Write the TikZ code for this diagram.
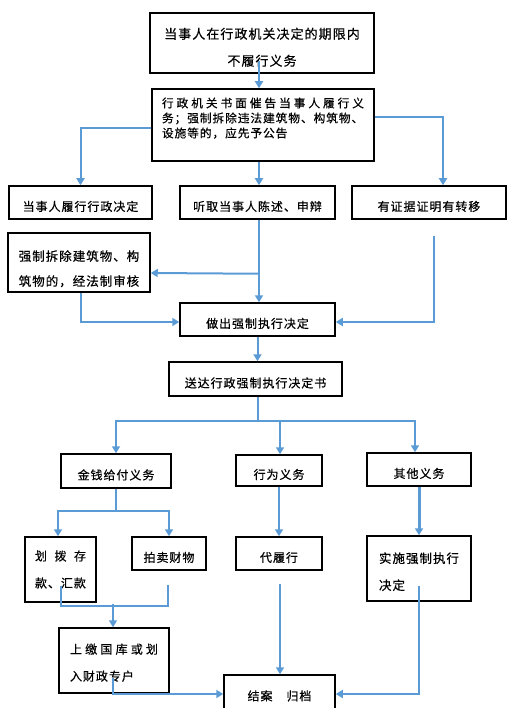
\documentclass[tikz,border=0pt]{standalone}
\usepackage{fontspec}
\newfontfamily\cjk[LetterSpace=8,FakeBold=0.5]{Noto Sans CJK SC}
\usetikzlibrary{arrows.meta,calc}
\definecolor{lblue}{RGB}{91,155,213}
\def\sprd#1#2{\hbox to #1{\sprdA#2\relax}}
\def\sprdA#1{#1\futurelet\sprdNext\sprdB}
\def\sprdB{\ifx\sprdNext\relax\expandafter\sprdEnd\else\hfill\expandafter\sprdA\fi}
\def\sprdEnd\relax{}
\tikzset{
  box/.style={draw, line width=1.5pt, inner sep=0pt, font=\cjk\fontsize{12}{27}\selectfont},
  one/.style={box, text height=19pt, text depth=2pt},
  two/.style={box, align=left},
  conn/.style={draw=lblue, line width=2pt},
  arr/.style={conn, -{Triangle[width=8pt,length=7pt]}},
}
\begin{document}
\begin{tikzpicture}[x=1pt,y=-1pt]
\useasboundingbox (0,0) rectangle (507,708);
% nodes
\node[box, minimum width=224pt, minimum height=60pt, align=center, font=\cjk\fontsize{13}{27}\selectfont] (b1) at (262,43) {\rule{0pt}{19.5pt}当事人在行政机关决定的期限内\\不履行义务};
\node[two, minimum width=222pt, minimum height=72pt, font=\cjk\fontsize{11.7}{15}\selectfont] (b2) at (263,125) {\sprd{202pt}{行政机关书面催告当事人履行义}\\务；强制拆除违法建筑物、构筑物、\\设施等的，应先予公告\\\mbox{}};
\node[one, minimum width=143pt, minimum height=33pt] (b3) at (80.5,202.5) {当事人履行行政决定};
\node[one, minimum width=155pt, minimum height=33pt] (b4) at (257.5,202.5) {听取当事人陈述、申辩};
\node[one, minimum width=154pt, minimum height=33pt] (b5) at (429,202.5) {有证据证明有转移};
\node[two, minimum width=142pt, minimum height=59pt, font=\cjk\fontsize{12.5}{25}\selectfont] (b6) at (79,262.5) {\rule{0pt}{23pt}强制拆除建筑物、构\\筑物的，经法制审核};
\node[one, minimum width=155pt, minimum height=33pt] (b7) at (257.5,319.5) {做出强制执行决定};
\node[one, minimum width=173pt, minimum height=34pt] (b8) at (255.5,379) {送达行政强制执行决定书};
\node[one, minimum width=110pt, minimum height=34pt] (b9) at (116,471) {金钱给付义务};
\node[one, minimum width=86pt, minimum height=31pt] (b10) at (279,470.5) {行为义务};
\node[one, minimum width=104pt, minimum height=33pt] (b11) at (419,469.5) {其他义务};
\node[two, minimum width=71pt, minimum height=65pt] (b12) at (60.5,569.5) {\sprd{51pt}{划拨存}\\款、汇款};
\node[one, minimum width=74pt, minimum height=33pt] (b13) at (169,553.5) {拍卖财物};
\node[one, minimum width=86pt, minimum height=33pt] (b14) at (279,553.5) {代履行};
\node[two, minimum width=104pt, minimum height=65pt, font=\cjk\fontsize{12.5}{27}\selectfont] (b15) at (419,568.5) {\rule{0pt}{17pt}实施强制执行\\决定};
\node[two, minimum width=110pt, minimum height=65pt] (b16) at (114,660.5) {\rule{0pt}{14.5pt}\sprd{88pt}{上缴国库或划}\\入财政专户};
\node[one, minimum width=111pt, minimum height=34pt] (b17) at (279.5,692) {结案　归档};
% connectors
\draw[arr] ($(b1.south)+(-3,-13)$) -- ($(b2.north)+(-4,0)$);
\draw[arr] ($(b2.west)+(0,3)$) -| (b3.north);
\draw[arr] ($(b2.south)+(-4,0)$) -- ($(b4.north)+(1.5,0)$);
\draw[arr] ($(b2.east)+(0,-8)$) -| ($(b5.north)+(14,0)$);
\draw[arr] ($(b4.south)+(1.5,0)$) -- ($(b7.north)+(1.5,0)$);
\draw[arr] ($(b4.south)+(1.5,54)$) -- ($(b6.east)+(0,10.5)$);
\draw[arr] ($(b6.south)+(2,0)$) |- ($(b7.west)+(0,2.5)$);
\draw[arr] ($(b5.south)+(5,16)$) |- ($(b7.east)+(0,2.5)$);
\draw[arr] (b7.south) -- (b7.south |- b8.north);
\coordinate (j8) at ($(b8.south)+(2.5,24)$);
\draw[conn] ($(b8.south)+(2.5,0)$) -- (j8);
\draw[arr] (j8) -| (b9.north);
\draw[arr] (j8) -| ($(b10.north)+(1,0)$);
\draw[arr] (j8) -| ($(b11.north)+(-4,0)$);
\coordinate (j9) at ($(b9.south)+(0,22)$);
\draw[conn] (b9.south) -- (j9);
\draw[arr] (j9) -| ($(b12.north)+(-2.5,0)$);
\draw[arr] (j9) -| (b13.north);
\draw[arr] (b10.south) -- (b14.north);
\draw[arr, line width=3pt] (b11.south) -- (b15.north);
\draw[conn] ($(b12.south)+(0,-17)$) |- ($(b13.south)+(-1,35)$) -- ($(b13.south)+(-1,14)$);
\draw[arr] ($(b16.north)+(-1,-23)$) -- ($(b16.north)+(-1,0)$);
\draw[arr] ($(b14.south)+(1,13)$) -- ($(b17.north)+(0.5,0)$);
\draw[arr] ($(b15.south)+(0,-16)$) |- ($(b17.east)+(0,2)$);
\draw[arr] ($(b16.south)+(-1,-16)$) |- ($(b17.west)+(0,2)$);
\end{tikzpicture}
\end{document}
